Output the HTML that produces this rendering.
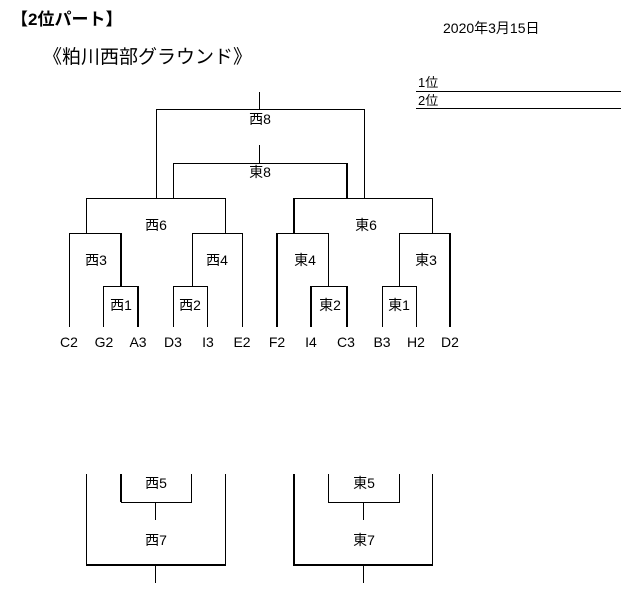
<!DOCTYPE html>
<html><head><meta charset="utf-8"><style>
body{margin:0;background:#fff;width:635px;height:601px;overflow:hidden}
svg text{font-family:"Liberation Sans","Noto Sans CJK JP",sans-serif;fill:#000}
</style></head><body>
<svg width="635" height="601" xmlns="http://www.w3.org/2000/svg">
<text x="11" y="25" font-size="17" font-weight="bold">【2位パート】</text>
<text x="43" y="63" font-size="19">《粕川西部グラウンド》</text>
<text x="443" y="33" font-size="14">2020年3月15日</text>
<text x="418" y="87" font-size="13">1位</text>
<text x="418" y="105" font-size="13">2位</text>
<g stroke="#000" stroke-width="1" fill="none">
<line x1="416" y1="91.5" x2="621" y2="91.5"/>
<line x1="416" y1="108.5" x2="621" y2="108.5"/>
<line x1="259.5" y1="92" x2="259.5" y2="109"/>
<polyline points="156.5,198 156.5,109.5 364.5,109.5 364.5,198"/>
<line x1="259.5" y1="145" x2="259.5" y2="163"/>
<polyline points="173.5,198 173.5,163.5 347,163.5"/>
<line x1="347" y1="163" x2="347" y2="198" stroke-width="2"/>
<polyline points="86.5,233 86.5,198.5 225.5,198.5 225.5,233"/>
<polyline points="294,233 294,198.5 432.5,198.5 432.5,233"/>
<line x1="294" y1="198" x2="294" y2="233" stroke-width="2"/>
<polyline points="69.5,327 69.5,233.5 121,233.5"/>
<line x1="121" y1="233" x2="121" y2="286" stroke-width="2"/>
<polyline points="103.5,327 103.5,286.5 138,286.5"/>
<line x1="138" y1="286" x2="138" y2="327" stroke-width="2"/>
<polyline points="192.5,286 192.5,233.5 242.5,233.5 242.5,327"/>
<polyline points="173.5,327 173.5,286.5 207.5,286.5 207.5,327"/>
<polyline points="277,233.5 328.5,233.5 328.5,286"/>
<line x1="277" y1="233" x2="277" y2="327" stroke-width="2"/>
<line x1="311" y1="286.5" x2="347" y2="286.5"/>
<line x1="311" y1="286" x2="311" y2="327" stroke-width="2"/>
<line x1="347" y1="286" x2="347" y2="327" stroke-width="2"/>
<polyline points="399.5,286 399.5,233.5 450,233.5"/>
<line x1="450" y1="233" x2="450" y2="327" stroke-width="2"/>
<polyline points="382.5,327 382.5,286.5 416.5,286.5 416.5,327"/>
<line x1="86.5" y1="474" x2="86.5" y2="565"/>
<line x1="225.5" y1="474" x2="225.5" y2="565"/>
<line x1="86" y1="565" x2="226" y2="565" stroke-width="2"/>
<line x1="155.5" y1="565" x2="155.5" y2="583"/>
<line x1="121" y1="474" x2="121" y2="502" stroke-width="2"/>
<polyline points="121,502.5 191.5,502.5 191.5,474"/>
<line x1="155.5" y1="502" x2="155.5" y2="520"/>
<line x1="294" y1="474" x2="294" y2="566" stroke-width="2"/>
<line x1="432.5" y1="474" x2="432.5" y2="565"/>
<line x1="293" y1="565" x2="433" y2="565" stroke-width="2"/>
<line x1="363.5" y1="565" x2="363.5" y2="583"/>
<polyline points="328.5,474 328.5,502.5 399.5,502.5 399.5,474"/>
<line x1="363.5" y1="502" x2="363.5" y2="520"/>
</g>
<g font-size="14" text-anchor="middle">
<text x="260" y="124">西8</text>
<text x="260" y="177">東8</text>
<text x="156" y="230">西6</text>
<text x="366" y="230">東6</text>
<text x="96" y="265">西3</text>
<text x="217" y="265">西4</text>
<text x="305" y="265">東4</text>
<text x="426" y="265">東3</text>
<text x="121" y="310">西1</text>
<text x="190" y="310">西2</text>
<text x="330" y="310">東2</text>
<text x="399" y="310">東1</text>
<text x="156" y="488">西5</text>
<text x="156" y="545">西7</text>
<text x="364" y="488">東5</text>
<text x="364" y="545">東7</text>
</g>
<g font-size="14" text-anchor="middle">
<text x="69" y="347">C2</text>
<text x="104" y="347">G2</text>
<text x="138" y="347">A3</text>
<text x="173" y="347">D3</text>
<text x="208" y="347">I3</text>
<text x="242" y="347">E2</text>
<text x="277" y="347">F2</text>
<text x="311" y="347">I4</text>
<text x="346" y="347">C3</text>
<text x="382" y="347">B3</text>
<text x="416" y="347">H2</text>
<text x="450" y="347">D2</text>
</g>
</svg>
</body></html>
